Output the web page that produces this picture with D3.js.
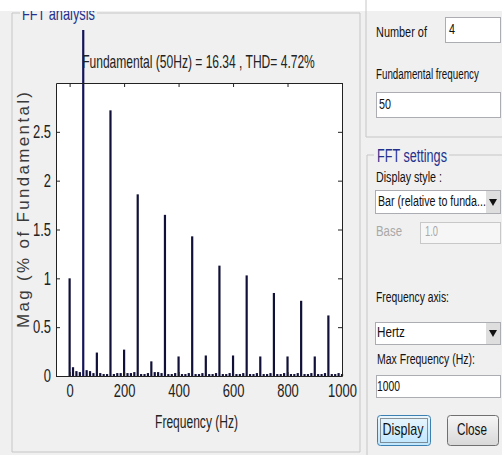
<!DOCTYPE html>
<html><head><meta charset="utf-8">
<script src="https://cdn.jsdelivr.net/npm/d3@7"></script>
<style>
html,body{margin:0;padding:0;background:#f0f0f0;}
svg{display:block;}
</style></head>
<body>
<svg id="c" width="502" height="455"></svg>
<script>
// ---------- data ----------
const freqs = [0,12.5,25,37.5,50,62.5,75,87.5,100,112.5,125,137.5,150,162.5,175,187.5,200,212.5,225,237.5,250,262.5,275,287.5,300,312.5,325,337.5,350,362.5,375,387.5,400,412.5,425,437.5,450,462.5,475,487.5,500,512.5,525,537.5,550,562.5,575,587.5,600,612.5,625,637.5,650,662.5,675,687.5,700,712.5,725,737.5,750,762.5,775,787.5,800,812.5,825,837.5,850,862.5,875,887.5,900,912.5,925,937.5,950,962.5,975,987.5,1000];
const mags = [1.00,0.09,0.05,0.04,100,0.06,0.05,0.03,0.24,0.03,0.02,0.02,2.72,0.02,0.03,0.03,0.27,0.03,0.03,0.04,1.86,0.02,0.02,0.03,0.15,0.04,0.04,0.03,1.65,0.02,0.02,0.03,0.20,0.02,0.02,0.03,1.43,0.02,0.02,0.03,0.21,0.02,0.02,0.03,1.13,0.02,0.02,0.03,0.21,0.02,0.02,0.03,1.03,0.02,0.02,0.03,0.20,0.02,0.02,0.03,0.85,0.02,0.02,0.03,0.20,0.02,0.02,0.03,0.77,0.02,0.02,0.03,0.20,0.02,0.02,0.03,0.62,0.02,0.02,0.03,0.02];
const xTicks = [0,200,400,600,800,1000];
const yTicks = [0,0.5,1,1.5,2,2.5];
const xDomain = [-50,1000];
const yDomain = [0,3];
const titleText = "Fundamental (50Hz) = 16.34 , THD= 4.72%";
const xLabel = "Frequency (Hz)";
const yLabel = "Mag (% of Fundamental)";

const SANS = "'Liberation Sans',Arial,sans-serif";
const svg = d3.select("#c");

// narrow-font look: horizontal scale of a text to a target width
function squeeze(sel, target){
  sel.each(function(){
    const t = d3.select(this);
    const x0 = +t.attr("x")||0, y0 = +t.attr("y")||0;
    const k = target / this.getComputedTextLength();
    t.attr("x",0).attr("y",0).attr("transform",`translate(${x0},${y0}) scale(${k},1)`);
  });
  return sel;
}
function squeezeK(sel, k){
  sel.each(function(){
    const t = d3.select(this);
    const x0 = +t.attr("x")||0, y0 = +t.attr("y")||0;
    t.attr("x",x0/k).attr("y",y0).attr("transform",`scale(${k},1)`);
  });
  return sel;
}

// ---------- left group box ----------
const lineC = "#c6c6c6";
svg.append("path").attr("d","M20,13 H12 V452 H360 V13 H97").attr("fill","none").attr("stroke",lineC);
squeeze(svg.append("text").attr("x",22).attr("y",20).attr("font-family",SANS).attr("font-size",19)
  .attr("fill","#24308e").text("FFT analysis"),73);
// white band over the top (cropped look)
svg.append("rect").attr("x",0).attr("y",0).attr("width",502).attr("height",11).attr("fill","#fff");

// ---------- chart ----------
const x = d3.scaleLinear().domain(xDomain).range([56,342]);
const y = d3.scaleLinear().domain(yDomain).range([376,83]);

svg.append("rect").attr("x",56).attr("y",83).attr("width",286).attr("height",293).attr("fill","#fff");

svg.append("clipPath").attr("id","clip").append("rect")
  .attr("x",0).attr("y",30).attr("width",502).attr("height",400);

svg.append("g").attr("clip-path","url(#clip)").selectAll("rect").data(freqs.map((f,i)=>({f,m:mags[i]})))
  .join("rect")
  .attr("x",d=>x(d.f)-1.1).attr("width",2.2)
  .attr("y",d=>y(d.m)).attr("height",d=>y(0)-y(d.m))
  .attr("fill",d=>d.f===50?"#14145a":"#101038");

// axes (ticks inward, boxed)
const axStyle = g=>{
  g.selectAll(".domain").attr("stroke","#222");
  g.selectAll(".tick line").attr("stroke","#222");
  g.selectAll("text").attr("font-family",SANS).attr("font-size",18).attr("fill","#222");
  squeezeK(g.selectAll("text"),0.72);
};
svg.append("g").attr("transform","translate(0,376)")
  .call(d3.axisBottom(x).tickValues(xTicks).tickSizeInner(-4).tickSizeOuter(0).tickPadding(8).tickFormat(d3.format("d")))
  .call(axStyle);
svg.append("g").attr("transform","translate(0,83)")
  .call(d3.axisTop(x).tickValues(xTicks).tickSizeInner(-4).tickSizeOuter(0).tickFormat(""))
  .call(axStyle);
svg.append("g").attr("transform","translate(56,0)")
  .call(d3.axisLeft(y).tickValues(yTicks).tickSizeInner(-4).tickSizeOuter(0).tickPadding(5).tickFormat(d=>String(d)))
  .call(axStyle);
svg.append("g").attr("transform","translate(342,0)")
  .call(d3.axisRight(y).tickValues(yTicks).tickSizeInner(-4).tickSizeOuter(0).tickFormat(""))
  .call(axStyle);

// title & labels
squeeze(svg.append("text").attr("x",198.5).attr("y",68).attr("text-anchor","middle")
  .attr("font-family",SANS).attr("font-size",18).attr("fill","#222").text(titleText),233);
squeeze(svg.append("text").attr("x",196.5).attr("y",428).attr("text-anchor","middle")
  .attr("font-family",SANS).attr("font-size",18).attr("fill","#222").text(xLabel),83);
svg.append("text").attr("transform","translate(29,210) rotate(-90)").attr("text-anchor","middle")
  .attr("font-family",SANS).attr("font-size",17).attr("fill","#3a3a3a")
  .attr("textLength",236).attr("lengthAdjust","spacing").text(yLabel);

// ---------- right panel ----------
const rp = svg.append("g");
rp.append("path").attr("d","M366,0 V137 H502").attr("fill","none").attr("stroke",lineC);
rp.append("path").attr("d","M374,155 H367 V455").attr("fill","none").attr("stroke",lineC);
rp.append("path").attr("d","M449,155 H502").attr("fill","none").attr("stroke",lineC);
squeeze(rp.append("text").attr("x",377).attr("y",162).attr("font-family",SANS).attr("font-size",19)
  .attr("fill","#24308e").text("FFT settings"),70);

const lab = (t,xx,yy,w,col)=>squeeze(rp.append("text").attr("x",xx).attr("y",yy).attr("font-family",SANS)
  .attr("font-size",15).attr("fill",col||"#111").attr("dominant-baseline","middle").text(t),w);
const box = (x0,y0,w,h,stroke,fill)=>rp.append("rect").attr("x",x0+0.5).attr("y",y0+0.5).attr("width",w).attr("height",h)
  .attr("fill",fill||"#fff").attr("stroke",stroke||"#abadb3");

lab("Number of",376,33,51);
box(445,17,55,25); lab("4",449,30,6);
lab("Fundamental frequency",376,75,103);
box(376,92,124,25); lab("50",379,105,12);
lab("Display style :",376,178,66);
box(375,190,125,23);
rp.append("rect").attr("x",486).attr("y",191).attr("width",14).attr("height",22).attr("fill","#dedede");
lab("Bar (relative to funda...",378,202,108);
rp.append("path").attr("d","M489,199 h8 l-4,7 z").attr("fill","#111");
lab("Base",376,232,26,"#a8a8a8");
box(420,222,80,21,"#c8c8c8","#f6f6f6"); lab("1.0",425,232,13,"#a8a8a8");
lab("Frequency axis:",376,298,73);
box(375,322,125,22);
rp.append("rect").attr("x",486).attr("y",323).attr("width",14).attr("height",21).attr("fill","#dedede");
lab("Hertz",377,333,28);
rp.append("path").attr("d","M489,330 h8 l-4,7 z").attr("fill","#111");
lab("Max Frequency (Hz):",377,360,98);
box(376,375,124,22); lab("1000",377,387,23);

// buttons
const defs = svg.append("defs");
const g1 = defs.append("linearGradient").attr("id","gb1").attr("x1",0).attr("y1",0).attr("x2",0).attr("y2",1);
g1.append("stop").attr("offset","0").attr("stop-color","#eaf6fd");
g1.append("stop").attr("offset","1").attr("stop-color","#bee6fd");
const g2 = defs.append("linearGradient").attr("id","gb2").attr("x1",0).attr("y1",0).attr("x2",0).attr("y2",1);
g2.append("stop").attr("offset","0").attr("stop-color","#f6f6f6");
g2.append("stop").attr("offset","1").attr("stop-color","#d8d8d8");
rp.append("rect").attr("x",377.5).attr("y",415.5).attr("width",53).attr("height",30).attr("rx",3)
  .attr("fill","url(#gb1)").attr("stroke","#3c7fb1");
rp.append("rect").attr("x",380.5).attr("y",418.5).attr("width",47).attr("height",24)
  .attr("fill","none").attr("stroke","#333").attr("stroke-dasharray","1,1");
squeeze(rp.append("text").attr("x",403).attr("y",431).attr("text-anchor","middle").attr("dominant-baseline","middle")
  .attr("font-family",SANS).attr("font-size",17).attr("fill","#111").text("Display"),41);
rp.append("rect").attr("x",447.5).attr("y",415.5).attr("width",51).attr("height",30).attr("rx",3)
  .attr("fill","url(#gb2)").attr("stroke","#707070");
squeeze(rp.append("text").attr("x",472).attr("y",431).attr("text-anchor","middle").attr("dominant-baseline","middle")
  .attr("font-family",SANS).attr("font-size",17).attr("fill","#111").text("Close"),30);
</script>
</body></html>
